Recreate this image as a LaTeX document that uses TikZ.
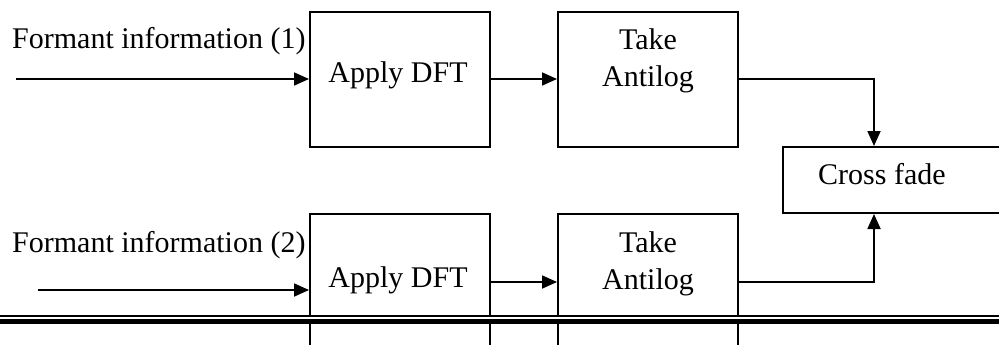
\documentclass[tikz,border=0pt]{standalone}
\usepackage{fontspec}
\setmainfont{Liberation Serif}
\usetikzlibrary{arrows.meta}
\begin{document}
\begin{tikzpicture}[x=1pt,y=1pt,
  blk/.style={draw,line width=2pt,rectangle,inner sep=0pt,minimum width=180pt,minimum height=135pt},
  lbl/.style={inner sep=0pt,font=\fontsize{30}{35}\selectfont},
  conn/.style={line width=1.8pt,-{Triangle[length=15pt,width=13pt]}},
  wire/.style={line width=1.8pt}]
\useasboundingbox (0,0) rectangle (999,-345);
\clip (0,0) rectangle (999,-345);
% top row
\node[blk] (dft1) at (400,-79.5) {};
\node[blk] (ant1) at (648,-79.5) {};
% bottom row (extends below the page edge)
\node[blk,minimum height=160pt] (dft2) at (400,-294) {};
\node[blk,minimum height=160pt] (ant2) at (648,-294) {};
% cross fade box (right edge beyond the page)
\node[draw,line width=2pt,rectangle,inner sep=0pt,minimum width=240pt,minimum height=66pt] (cross) at (903,-180) {};
% texts
\node[lbl,anchor=base west] (f1) at (12,-49) {Formant information (1)};
\node[lbl,anchor=base west] (f2) at (12,-252) {Formant information (2)};
\node[lbl,anchor=base] (t1) at (398,-83) {Apply DFT};
\node[lbl,anchor=base] (t2) at (398,-287) {Apply DFT};
\node[lbl,anchor=base] (a1) at (648,-50) {Take};
\node[lbl,anchor=base] (b1) at (648,-87) {Antilog};
\node[lbl,anchor=base] (a2) at (648,-252) {Take};
\node[lbl,anchor=base] (b2) at (648,-289) {Antilog};
\node[lbl,anchor=base west] (cf) at (818,-184) {Cross fade};
% connectors
\coordinate (in1) at (16,-79);
\coordinate (in2) at (38,-290);
\coordinate (cx) at (874,0);
\draw[conn] (in1) -- (in1 -| dft1.west);
\draw[conn] (dft1.east |- in1) -- (ant1.west |- in1);
\draw[conn] (ant1.east |- in1) -| (cx |- cross.north);
\draw[conn] (in2) -- (in2 -| dft2.west);
\coordinate (m2) at (0,-282);
\draw[conn] (dft2.east |- m2) -- (ant2.west |- m2);
\draw[conn] (ant2.east |- m2) -| (cx |- cross.south);
% double rule
\fill[white] (0,-317) rectangle (999,-319);
\draw[line width=2pt] (0,-316) -- (999,-316);
\draw[line width=5pt] (0,-321.5) -- (999,-321.5);
\end{tikzpicture}
\end{document}
